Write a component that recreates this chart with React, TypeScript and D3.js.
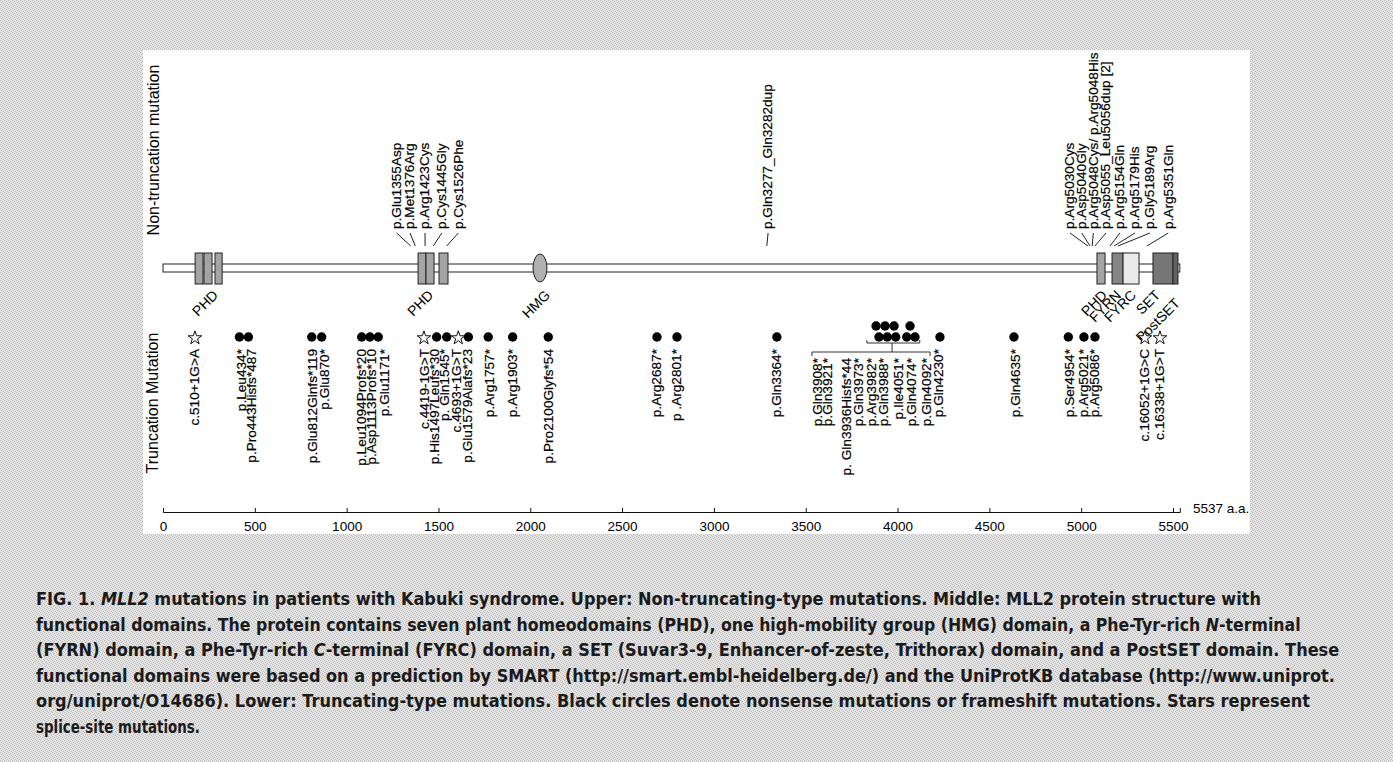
import { useEffect, useRef } from 'react'
import * as d3 from 'd3'

// MLL2 protein, a.a. positions
const PROTEIN_LENGTH = 5537
const axisTicks = [0, 500, 1000, 1500, 2000, 2500, 3000, 3500, 4000, 4500, 5000, 5500]

const domains = [
  { kind: 'PHD', start: 175, end: 218 },
  { kind: 'PHD', start: 223, end: 267 },
  { kind: 'PHD', start: 283, end: 322 },
  { kind: 'PHD', start: 1389, end: 1432 },
  { kind: 'PHD', start: 1432, end: 1476 },
  { kind: 'PHD', start: 1503, end: 1552 },
  { kind: 'HMG', start: 2015, end: 2091 },
  { kind: 'PHD', start: 5086, end: 5130 },
  { kind: 'FYRN', start: 5168, end: 5228 },
  { kind: 'FYRC', start: 5228, end: 5315 },
  { kind: 'SET', start: 5391, end: 5500 },
  { kind: 'PostSET', start: 5500, end: 5527 },
]

// label text, a.a. where the label ends, stacking row
const domainLabels = [
  { text: 'PHD', at: 305, row: 0 },
  { text: 'PHD', at: 1476, row: 0 },
  { text: 'HMG', at: 2113, row: 0 },
  { text: 'PHD', at: 5146, row: 0 },
  { text: 'FYRN', at: 5222, row: 0 },
  { text: 'FYRC', at: 5304, row: 0 },
  { text: 'SET', at: 5435, row: 0 },
  { text: 'PostSET', at: 5543, row: 1 },
]

// non-truncating mutations: label column (a.a.) and site the leader points to
const nonTruncating = [
  { label: 'p.Glu1355Asp', at: 1272, site: 1349 },
  { label: 'p.Met1376Arg', at: 1345, site: 1374 },
  { label: 'p.Arg1423Cys', at: 1427, site: 1427 },
  { label: 'p.Cys1445Gly', at: 1518, site: 1472 },
  { label: 'p.Cys1526Phe', at: 1608, site: 1545 },
  { label: 'p.Gln3277_Gln3282dup', at: 3295, site: 3288 },
  { label: 'p.Arg5030Cys', at: 4939, site: 5037 },
  { label: 'p.Asp5040Gly', at: 5003, site: 5048 },
  { label: 'p.Arg5048Cys/ p.Arg5048His', at: 5066, site: 5060 },
  { label: 'p.Asp5055_Leu5056dup [2]', at: 5135, site: 5075 },
  { label: 'p.Arg5154Gln', at: 5211, site: 5157 },
  { label: 'p.Arg5179His', at: 5293, site: 5179 },
  { label: 'p.Gly5189Arg', at: 5375, site: 5200 },
  { label: 'p.Arg5351Gln', at: 5474, site: 5358 },
]

// truncating mutations: marker position, label column, marker type
const truncating = [
  { label: 'c.510+1G>A', pos: 174, at: 174, type: 'splice' },
  { label: 'p.Leu434*', pos: 416, at: 429, type: 'stop' },
  { label: 'p.Pro443Hisfs*487', pos: 465, at: 483, type: 'stop' },
  { label: 'p.Glu812Glnfs*119', pos: 810, at: 817, type: 'stop' },
  { label: 'p.Glu870*', pos: 864, at: 882, type: 'stop' },
  { label: 'p.Leu1094Profs*20', pos: 1082, at: 1082, type: 'stop' },
  { label: 'p.Asp1113Profs*10', pos: 1127, at: 1136, type: 'stop' },
  { label: 'p.Glu1171*', pos: 1172, at: 1209, type: 'stop' },
  { label: 'c.4419-1G>T', pos: 1421, at: 1427, type: 'splice' },
  { label: 'p.His1497Leufs*30', pos: 1490, at: 1481, type: 'stop' },
  { label: 'p. Gln1545*', pos: 1545, at: 1536, type: 'stop' },
  { label: 'c.4693+1G>T', pos: 1608, at: 1599, type: 'splice' },
  { label: 'p.Glu1579Alafs*23', pos: 1663, at: 1661, type: 'stop' },
  { label: 'p.Arg1757*', pos: 1771, at: 1781, type: 'stop' },
  { label: 'p.Arg1903*', pos: 1904, at: 1906, type: 'stop' },
  { label: 'p.Pro2100Glyfs*54', pos: 2098, at: 2098, type: 'stop' },
  { label: 'p.Arg2687*', pos: 2690, at: 2690, type: 'stop' },
  { label: 'p .Arg2801*', pos: 2799, at: 2799, type: 'stop' },
  { label: 'p.Gln3364*', pos: 3343, at: 3343, type: 'stop' },
  { label: 'p.Gln4230*', pos: 4231, at: 4226, type: 'stop' },
  { label: 'p.Gln4635*', pos: 4634, at: 4645, type: 'stop' },
  { label: 'p.Ser4954*', pos: 4930, at: 4939, type: 'stop' },
  { label: 'p.Arg5021*', pos: 5015, at: 5015, type: 'stop' },
  { label: 'p.Arg5086*', pos: 5075, at: 5075, type: 'stop' },
  { label: 'c.16052+1G>C', pos: 5347, at: 5347, type: 'splice' },
  { label: 'c.16338+1G>T', pos: 5429, at: 5429, type: 'splice' },
]

// the bracketed hot-spot cluster around 3900-4100
const clusterLabels = [
  { label: 'p.Gln3908*', at: 3567 },
  { label: 'p.Gln3921*', at: 3621 },
  { label: 'p. Gln3936Hisfs*44', at: 3720 },
  { label: 'p.Gln3973*', at: 3790 },
  { label: 'p.Arg3982*', at: 3861 },
  { label: 'p.Gln3988*', at: 3926 },
  { label: 'p.Ile4051*', at: 4008 },
  { label: 'p.Gln4074*', at: 4079 },
  { label: 'p.Gln4092*', at: 4156 },
]
const clusterDots = [
  { pos: 3899, level: 0 }, { pos: 3944, level: 0 }, { pos: 3990, level: 0 },
  { pos: 4050, level: 0 }, { pos: 4095, level: 0 },
  { pos: 3883, level: 1 }, { pos: 3932, level: 1 }, { pos: 3981, level: 1 },
  { pos: 4068, level: 1 },
]
const clusterSpan = [3833, 4121]
const clusterLabelSpan = [3534, 4177]
const clusterJoin = 3970

const captionLines = [
  [{ t: 'FIG. 1. ' }, { t: 'MLL2', i: true }, { t: ' mutations in patients with Kabuki syndrome. Upper: Non-truncating-type mutations. Middle: MLL2 protein structure with' }],
  [{ t: 'functional domains. The protein contains seven plant homeodomains (PHD), one high-mobility group (HMG) domain, a Phe-Tyr-rich ' }, { t: 'N', i: true }, { t: '-terminal' }],
  [{ t: '(FYRN) domain, a Phe-Tyr-rich ' }, { t: 'C', i: true }, { t: '-terminal (FYRC) domain, a SET (Suvar3-9, Enhancer-of-zeste, Trithorax) domain, and a PostSET domain. These' }],
  [{ t: 'functional domains were based on a prediction by SMART (http://smart.embl-heidelberg.de/) and the UniProtKB database (http://www.uniprot.' }],
  [{ t: 'org/uniprot/O14686). Lower: Truncating-type mutations. Black circles denote nonsense mutations or frameshift mutations. Stars represent' }],
  [{ t: 'splice-site mutations.' }],
]
// right end of each caption line in the reference
const captionEnds = [1262, 1302, 1340, 1335, 1310, 200]

const W = 1393
const H = 762
const FONT = "'Liberation Sans', Arial, sans-serif"
const fills: Record<string, string> = {
  PHD: '#a4a4a4', HMG: '#b0b0b0', FYRN: '#858585', FYRC: '#e9e9e9', SET: '#767676', PostSET: '#626262',
}

const backboneY = 268
const axisY = 512
const markerY = 337
const truncTop = 349
const clusterTop = 358
const topBottom = 229
const captionX = 36

const x = d3.scaleLinear().domain([0, PROTEIN_LENGTH]).range([163, 163 + PROTEIN_LENGTH * (1010 / 5500)])

const starPath = d3.symbol(d3.symbolStar, 58)()

const VText = ({ x, y, anchor, children }: { x: number; y: number; anchor: string; children: string }) => (
  <text transform={`translate(${x},${y}) rotate(-90) scale(1.05,1)`} textAnchor={anchor} dominantBaseline="central"
    fontSize={13} fill="#000" stroke="#000" strokeWidth={0.2}>{children}</text>
)

export default function App() {
  const axisRef = useRef<SVGGElement>(null)
  const captionRef = useRef<SVGGElement>(null)

  useEffect(() => {
    document.body.style.margin = '0'
    const g = d3.select(axisRef.current)
    g.call(d3.axisBottom(x).tickValues(axisTicks).tickSize(-4).tickSizeOuter(-4).tickPadding(9).tickFormat(d3.format('d')) as any)
    g.attr('font-family', FONT).attr('font-size', 13.5)
    g.select('.domain').attr('stroke', '#111')
    g.selectAll('.tick line').attr('stroke', '#111')
    g.selectAll('.tick text').attr('fill', '#000')

    // squeeze each caption line to the reference's width
    const lines = d3.select(captionRef.current).selectAll<SVGTextElement, unknown>('text')
    const widths = lines.nodes().map(n => n.getComputedTextLength())
    lines.attr('transform', (_, i, nodes) => {
      const y = +(nodes[i] as SVGTextElement).getAttribute('data-y')!
      return `translate(${captionX},${y}) scale(${(captionEnds[i] - captionX) / widths[i]},1)`
    })
  }, [])

  return (
    <svg width={W} height={H} style={{ display: 'block' }} fontFamily={FONT}>
      <defs>
        <pattern id="halftone" width={4} height={4} patternUnits="userSpaceOnUse">
          <rect width={4} height={4} fill="#e4e4e4" />
          <rect x={0} y={0} width={1} height={1} fill="#b6b6b6" />
          <rect x={2} y={1} width={1} height={1} fill="#b6b6b6" />
          <rect x={1} y={2} width={1} height={1} fill="#b6b6b6" />
          <rect x={3} y={3} width={1} height={1} fill="#b6b6b6" />
        </pattern>
      </defs>
      <rect width={W} height={H} fill="url(#halftone)" />
      <rect x={143} y={50} width={1107} height={484} fill="#fff" />

      {/* row titles */}
      <text transform="translate(153,150) rotate(-90)" textAnchor="middle" dominantBaseline="central" fontSize={16} fill="#000">Non-truncation mutation</text>
      <text transform="translate(152,403) rotate(-90)" textAnchor="middle" dominantBaseline="central" fontSize={16} fill="#000">Truncation Mutation</text>

      {/* protein backbone and domains */}
      <rect x={x(0)} y={backboneY - 4} width={x(PROTEIN_LENGTH) - x(0)} height={8} fill="#fff" stroke="#222" />
      {domains.map((d, i) =>
        d.kind === 'HMG' ? (
          <ellipse key={i} cx={(x(d.start) + x(d.end)) / 2} cy={backboneY} rx={(x(d.end) - x(d.start)) / 2} ry={14}
            fill={fills[d.kind]} stroke="#222" />
        ) : (
          <rect key={i} x={x(d.start)} y={backboneY - 15} width={x(d.end) - x(d.start)} height={31}
            fill={fills[d.kind]} stroke="#222" />
        )
      )}
      {domainLabels.map((d, i) => (
        <text key={i} transform={`translate(${x(d.at)},${296 + d.row * 8}) rotate(-45)`} textAnchor="end"
          fontSize={14} fill="#000">{d.text}</text>
      ))}

      {/* non-truncating mutations */}
      {nonTruncating.map((m, i) => (
        <g key={i}>
          <VText x={x(m.at)} y={topBottom} anchor="start">{m.label}</VText>
          <line x1={x(m.at)} y1={topBottom + 4} x2={x(m.site)} y2={246} stroke="#222" />
        </g>
      ))}

      {/* truncating mutations */}
      {truncating.map((m, i) => (
        <g key={i}>
          {m.type === 'stop' ? (
            <circle cx={x(m.pos)} cy={markerY} r={4.7} fill="#000" />
          ) : (
            <path d={starPath!} transform={`translate(${x(m.pos)},${markerY + 1})`} fill="#fff" stroke="#111" />
          )}
          <VText x={x(m.at)} y={truncTop} anchor="end">{m.label}</VText>
        </g>
      ))}

      {clusterDots.map((d, i) => (
        <circle key={i} cx={x(d.pos)} cy={markerY - d.level * 11} r={4.7} fill="#000" />
      ))}
      <path d={`M${x(clusterSpan[0])},${markerY + 3}V${markerY + 6}H${x(clusterSpan[1])}V${markerY + 3}`} fill="none" stroke="#333" />
      <path d={`M${x(clusterJoin)},${markerY + 6}V${markerY + 15}`} fill="none" stroke="#333" />
      <path d={`M${x(clusterLabelSpan[0])},${markerY + 19}V${markerY + 15}H${x(clusterLabelSpan[1])}V${markerY + 19}`} fill="none" stroke="#333" />
      {clusterLabels.map((m, i) => (
        <VText key={i} x={x(m.at)} y={clusterTop} anchor="end">{m.label}</VText>
      ))}

      {/* a.a. axis */}
      <g ref={axisRef} transform={`translate(0,${axisY})`} />
      <text x={1193} y={513} fontSize={13.5} fill="#000">{`${PROTEIN_LENGTH} a.a.`}</text>

      {/* caption */}
      <g ref={captionRef} fontFamily="'DejaVu Sans Condensed', 'DejaVu Sans', sans-serif" fontSize={17.5}
        fontWeight="bold" fill="#1a1a1a">
        {captionLines.map((line, i) => (
          <text key={i} data-y={605 + i * 25.6} transform={`translate(${captionX},${605 + i * 25.6})`}>
            {line.map((s: any, j) => (
              <tspan key={j} fontStyle={s.i ? 'italic' : 'normal'}>{s.t}</tspan>
            ))}
          </text>
        ))}
      </g>
    </svg>
  )
}
